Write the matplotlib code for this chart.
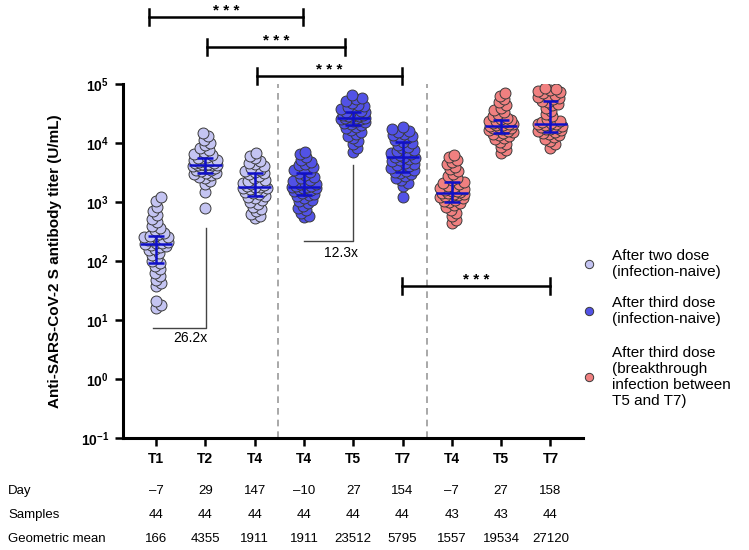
import matplotlib
matplotlib.use("Agg")
import matplotlib.pyplot as plt
import matplotlib.transforms as mtransforms
from matplotlib.lines import Line2D
import numpy as np

plt.rcParams["font.family"] = ["Liberation Sans", "DejaVu Sans"]
plt.rcParams["mathtext.fontset"] = "custom"
plt.rcParams["mathtext.rm"] = "Liberation Sans"
plt.rcParams["mathtext.bf"] = "Liberation Sans:bold"

# ---- data (log10 titers, U/mL) ----
timepoints = ["T1", "T2", "T4", "T4", "T5", "T7", "T4", "T5", "T7"]
cohort = [0, 0, 0, 1, 1, 1, 2, 2, 2]

two_t1 = [1.20, 1.25, 1.33, 1.58, 1.62, 1.68, 1.75, 1.80, 1.86, 1.92, 1.96, 2.00, 2.05, 2.10, 2.14,
          2.18, 2.21, 2.24, 2.26, 2.28, 2.29, 2.30, 2.31, 2.33, 2.35, 2.36, 2.37, 2.38, 2.40, 2.41,
          2.42, 2.43, 2.45, 2.48, 2.52, 2.56, 2.60, 2.66, 2.72, 2.78, 2.85, 2.92, 3.02, 3.08]
two_t2 = [2.90, 3.17, 3.30, 3.36, 3.40, 3.43, 3.45, 3.47, 3.49, 3.50, 3.52, 3.54, 3.55, 3.57, 3.58,
          3.59, 3.60, 3.61, 3.62, 3.62, 3.63, 3.63, 3.64, 3.65, 3.66, 3.67, 3.68, 3.69, 3.70, 3.71,
          3.72, 3.74, 3.75, 3.77, 3.79, 3.82, 3.85, 3.88, 3.92, 3.96, 4.00, 4.05, 4.12, 4.17]
two_t4 = [2.73, 2.76, 2.80, 2.84, 2.88, 2.92, 2.96, 3.00, 3.03, 3.06, 3.09, 3.11, 3.13, 3.15, 3.17,
          3.19, 3.20, 3.22, 3.23, 3.24, 3.25, 3.26, 3.27, 3.29, 3.30, 3.32, 3.34, 3.36, 3.38, 3.41,
          3.44, 3.47, 3.49, 3.51, 3.53, 3.55, 3.58, 3.61, 3.64, 3.67, 3.70, 3.74, 3.78, 3.83]
third_t4 = [2.74, 2.77, 2.82, 2.86, 2.90, 2.94, 2.98, 3.01, 3.04, 3.07, 3.10, 3.12, 3.14, 3.16, 3.18,
            3.19, 3.21, 3.22, 3.23, 3.24, 3.25, 3.26, 3.27, 3.28, 3.30, 3.31, 3.33, 3.35, 3.37, 3.40,
            3.43, 3.46, 3.49, 3.51, 3.54, 3.56, 3.59, 3.62, 3.65, 3.68, 3.72, 3.76, 3.81, 3.85]
third_t5 = [3.85, 3.92, 3.98, 4.03, 4.08, 4.12, 4.16, 4.19, 4.22, 4.25, 4.28, 4.30, 4.32, 4.34, 4.35,
            4.37, 4.38, 4.39, 4.40, 4.41, 4.42, 4.42, 4.43, 4.44, 4.45, 4.46, 4.47, 4.48, 4.49, 4.50,
            4.51, 4.52, 4.53, 4.55, 4.57, 4.59, 4.61, 4.63, 4.65, 4.68, 4.71, 4.74, 4.77, 4.81]
third_t7 = [3.09, 3.28, 3.33, 3.37, 3.41, 3.44, 3.47, 3.49, 3.51, 3.53, 3.55, 3.57, 3.59, 3.61, 3.63,
            3.65, 3.67, 3.69, 3.71, 3.73, 3.75, 3.76, 3.77, 3.79, 3.81, 3.83, 3.85, 3.87, 3.89, 3.91,
            3.94, 3.97, 4.00, 4.02, 4.05, 4.08, 4.10, 4.12, 4.14, 4.16, 4.18, 4.20, 4.23, 4.27]
bt_t4 = [2.64, 2.70, 2.76, 2.82, 2.87, 2.91, 2.95, 2.98, 3.00, 3.02, 3.04, 3.06, 3.08, 3.10, 3.11,
         3.12, 3.13, 3.14, 3.15, 3.16, 3.17, 3.18, 3.19, 3.20, 3.22, 3.24, 3.26, 3.28, 3.30, 3.32,
         3.34, 3.37, 3.40, 3.44, 3.48, 3.52, 3.56, 3.60, 3.64, 3.68, 3.72, 3.76, 3.80]
bt_t5 = [3.83, 3.88, 3.93, 3.98, 4.02, 4.06, 4.09, 4.12, 4.14, 4.16, 4.17, 4.19, 4.20, 4.22, 4.23,
         4.24, 4.25, 4.26, 4.27, 4.28, 4.29, 4.30, 4.31, 4.32, 4.33, 4.34, 4.35, 4.36, 4.37, 4.38,
         4.39, 4.41, 4.43, 4.46, 4.49, 4.52, 4.56, 4.60, 4.64, 4.69, 4.74, 4.80, 4.85]
bt_t7 = [3.92, 3.98, 4.03, 4.07, 4.10, 4.13, 4.15, 4.17, 4.19, 4.20, 4.22, 4.23, 4.24, 4.26, 4.27,
         4.28, 4.29, 4.30, 4.31, 4.32, 4.33, 4.34, 4.36, 4.38, 4.41, 4.45, 4.50, 4.55, 4.60, 4.64,
         4.67, 4.70, 4.72, 4.74, 4.76, 4.78, 4.80, 4.82, 4.84, 4.86, 4.88, 4.90, 4.92, 4.93]
groups = [two_t1, two_t2, two_t4, third_t4, third_t5, third_t7, bt_t4, bt_t5, bt_t7]

# median and interquartile range bars (log10)
bar_mid = [2.29, 3.62, 3.25, 3.25, 4.42, 3.76, 3.15, 4.29, 4.32]
bar_lo = [1.97, 3.49, 3.10, 3.12, 4.30, 3.51, 3.00, 4.17, 4.19]
bar_hi = [2.42, 3.75, 3.49, 3.49, 4.52, 4.02, 3.34, 4.39, 4.71]

# significance brackets: (x start, x end, log10 height)
brackets = [(-0.14, 2.98, 6.14), (1.03, 3.83, 5.63), (2.05, 4.98, 5.14), (4.99, 7.99, 1.58)]

day = ["\u20137", "29", "147", "\u201310", "27", "154", "\u20137", "27", "158"]
samples = ["44", "44", "44", "44", "44", "44", "43", "43", "44"]
geo_mean = ["166", "4355", "1911", "1911", "23512", "5795", "1557", "19534", "27120"]

legend_labels = ["After two dose\n(infection-naive)",
                 "After third dose\n(infection-naive)",
                 "After third dose\n(breakthrough\ninfection between\nT5 and T7)"]
colors = ["#C4C4F2", "#5252E6", "#F08080"]
BAR = "#1010C8"


def swarm(logs, px_x=49.3, px_y=59.0, d=5.5, max_px=12.0):
    """beeswarm offsets in data units; crowded points overlap instead of widening"""
    ys = np.asarray(logs) * px_y
    offs = np.zeros(len(ys))
    placed = []
    cands = [0.0]
    k = 1
    while k * 0.5 <= max_px:
        cands += [k * 0.5, -k * 0.5]
        k += 1
    for i in np.argsort(ys):
        y = ys[i]
        best, best_gap = 0.0, -1.0
        for c in cands:
            gap = min([np.hypot(c - ox, y - oy) for ox, oy in placed] or [99.0])
            if gap >= d:
                best = c
                break
            if gap > best_gap + 0.3:
                best, best_gap = c, gap
        offs[i] = best
        placed.append((best, y))
    return offs / px_x


fig = plt.figure(figsize=(7.49, 5.5), dpi=100)
ax = fig.add_axes([0.1642, 0.2036, 0.6142, 0.6436])

for i, vals in enumerate(groups):
    xs = i + swarm(vals)
    ax.scatter(xs, 10 ** np.asarray(vals), s=62, color=colors[cohort[i]],
               edgecolor="#3a3a3a", linewidth=0.7, zorder=3)
    ax.hlines(10 ** bar_mid[i], i - 0.33, i + 0.33, color=BAR, lw=1.8, zorder=4)
    ax.hlines([10 ** bar_lo[i], 10 ** bar_hi[i]], i - 0.16, i + 0.16, color=BAR, lw=1.8, zorder=4)
    ax.vlines(i, 10 ** bar_lo[i], 10 ** bar_hi[i], color=BAR, lw=1.8, zorder=4)

for xv in (2.47, 5.5):
    ax.axvline(xv, color="#9a9a9a", lw=1.2, ls=(0, (4, 3)), zorder=1)

ax.set_yscale("log")
ax.set_ylim(1e-1, 1e5)
ax.set_xlim(-0.67, 8.66)
ax.set_yticks([10.0 ** k for k in range(-1, 6)])
ax.set_yticklabels([r"$\mathbf{10^{%d}}$" % k for k in range(-1, 6)])
ax.yaxis.set_minor_locator(matplotlib.ticker.NullLocator())
ax.set_xticks(range(len(timepoints)))
ax.set_xticklabels(timepoints, fontweight="bold")
ax.tick_params(width=1.8, length=6, labelsize=10, pad=4)
for s in ("top", "right"):
    ax.spines[s].set_visible(False)
for s in ("left", "bottom"):
    ax.spines[s].set_linewidth(2.2)
ax.set_ylabel("Anti-SARS-CoV-2 S antibody titer (U/mL)", fontsize=11, fontweight="bold")
ax.yaxis.set_label_coords(-0.133, 0.5)

# significance brackets
cap = 10 ** 0.14
for x0, x1, ly in brackets:
    y = 10 ** ly
    ax.plot([x0, x1], [y, y], color="k", lw=1.8, clip_on=False, zorder=5)
    for xe in (x0, x1):
        ax.plot([xe, xe], [y / cap, y * cap], color="k", lw=1.8, clip_on=False, zorder=5)
    ax.text((x0 + x1) / 2, y * 10 ** 0.035, "* * *", ha="center", va="baseline",
            fontsize=11, fontweight="bold", clip_on=False)

# fold-change markers
ax.plot([-0.06, 1.01, 1.01], [10 ** 0.864, 10 ** 0.864, 10 ** 2.56], color="#444444", lw=1)
ax.text(0.69, 10 ** 0.69, "26.2x", ha="center", va="center", fontsize=10)
ax.plot([3.0, 4.0, 4.0], [10 ** 2.34, 10 ** 2.34, 10 ** 3.63], color="#444444", lw=1)
ax.text(3.75, 10 ** 2.14, "12.3x", ha="center", va="center", fontsize=10)

# legend drawn by hand
for lab, col, yc in zip(legend_labels, colors, (264, 311, 377)):
    fy = 1 - yc / 550
    fig.add_artist(Line2D([589 / 749], [fy], marker="o", ms=6, color=col,
                          markeredgecolor="#3a3a3a", markeredgewidth=0.7, ls="none"))
    fig.text(612 / 749, fy, lab, ha="left", va="center", fontsize=11, linespacing=1.18)

# table under the axis
tr = mtransforms.blended_transform_factory(ax.transData, fig.transFigure)
for name, row, yp in (("Day", day, 491), ("Samples", samples, 515),
                      ("Geometric mean", geo_mean, 539)):
    fy = 1 - yp / 550
    fig.text(8 / 749, fy, name, ha="left", va="center", fontsize=9.5)
    for i, v in enumerate(row):
        ax.text(i, fy, v, transform=tr, ha="center", va="center", fontsize=9.5, clip_on=False)

fig.savefig("out.png", dpi=100)
